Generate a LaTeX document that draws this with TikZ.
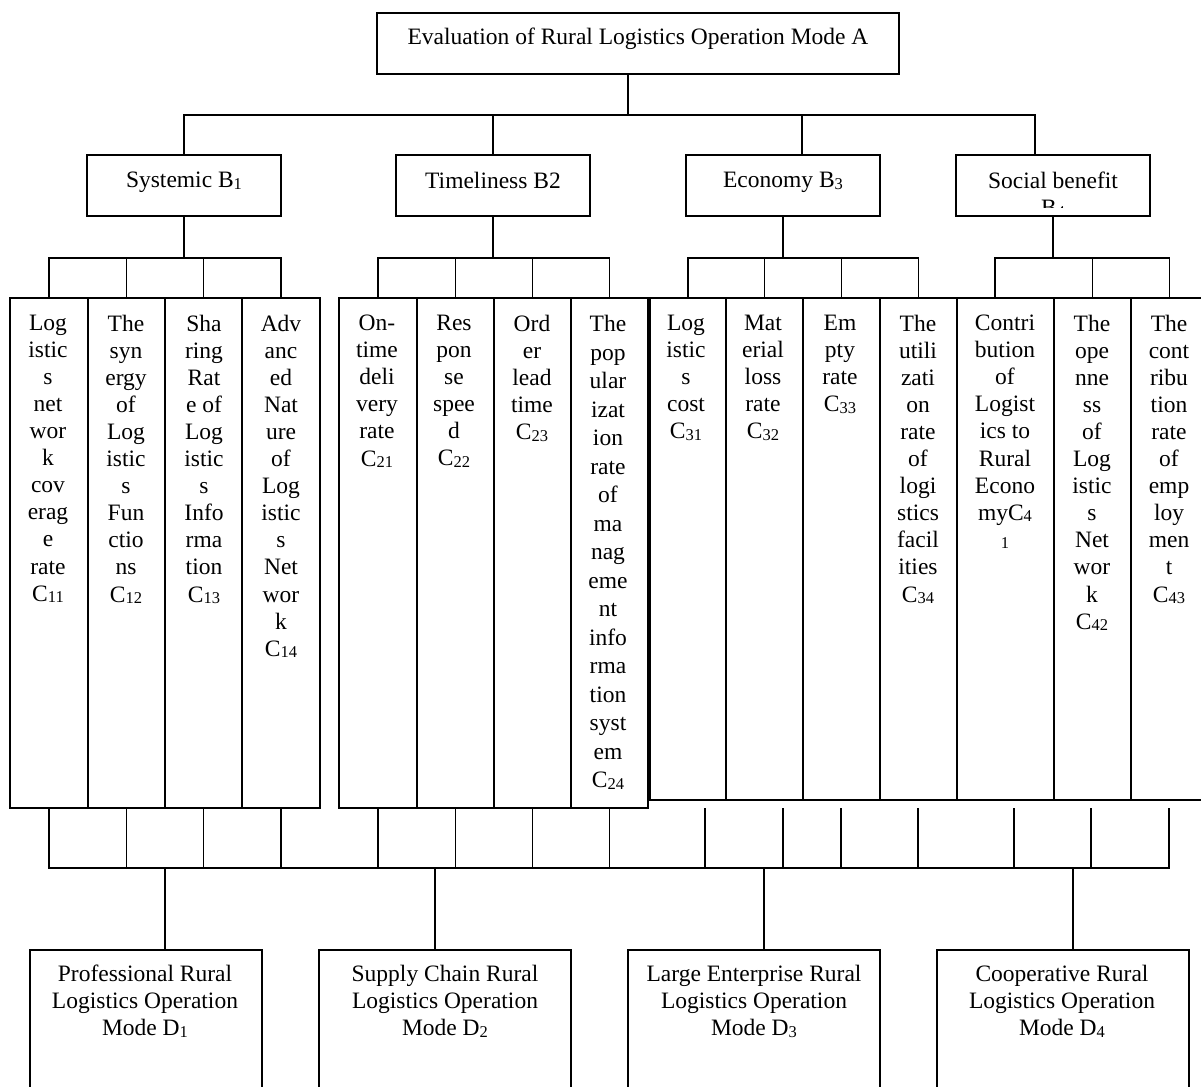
\documentclass[tikz,border=0pt]{standalone}
\usepackage{fontspec}
\setmainfont{Liberation Serif}
\tikzset{
  box/.style={draw, line width=1.8pt, rectangle, inner sep=0pt, fill=white},
  txt/.style={anchor=north, align=center, inner sep=0pt, font=\fontsize{23.5}{27.05}\selectfont},
  wire/.style={line width=1.8pt},
}
\newcommand{\sbs}[1]{\raisebox{-1.5pt}{\fontsize{16.5}{16.5}\selectfont #1}}
\begin{document}
\begin{tikzpicture}[x=1pt,y=-1pt]
\fill[white] (0,0) rectangle (1201,1086);
\clip (0,0) rectangle (1201,1086);

% ---- level A
\node[box, minimum width=522, minimum height=61] (A) at (638,43.5) {};
\node[txt] (At) at (638,28) {Evaluation of Rural Logistics Operation Mode A};

% ---- level B
\node[box, minimum width=194, minimum height=61] (B1) at (184,185.5) {};
\node[box, minimum width=194, minimum height=61] (B2) at (493,185.5) {};
\node[box, minimum width=194, minimum height=61] (B3) at (783,185.5) {};
\node[box, minimum width=194, minimum height=61] (B4) at (1053,185.5) {};
\node[txt] (B1t) at (184,172) {Systemic B\sbs{1}};
\node[txt] (B2t) at (493,172) {Timeliness B2};
\node[txt] (B3t) at (783,172) {Economy B\sbs{3}};
\begin{scope}
\clip (957,156) rectangle (1149,207.5);
\node[txt] (B4t) at (1053,172) {Social benefit\\B\sbs{4}};
\end{scope}

% ---- level C boxes
\node[box, minimum width=78, minimum height=510] (c11) at (49,553) {};
\node[box, minimum width=77, minimum height=510] (c12) at (126.5,553) {};
\node[box, minimum width=77, minimum height=510] (c13) at (203.5,553) {};
\node[box, minimum width=78, minimum height=510] (c14) at (281,553) {};
\node[box, minimum width=78, minimum height=510] (c21) at (378,553) {};
\node[box, minimum width=77, minimum height=510] (c22) at (455.5,553) {};
\node[box, minimum width=77, minimum height=510] (c23) at (532.5,553) {};
\node[box, minimum width=77, minimum height=510] (c24) at (609.5,553) {};
\node[box, minimum width=76, minimum height=502] (c31) at (688,549) {};
\node[box, minimum width=77, minimum height=502] (c32) at (764.5,549) {};
\node[box, minimum width=77, minimum height=502] (c33) at (841.5,549) {};
\node[box, minimum width=77, minimum height=502] (c34) at (918.5,549) {};
\node[box, minimum width=97, minimum height=502] (c41) at (1005.5,549) {};
\node[box, minimum width=77, minimum height=502] (c42) at (1092.5,549) {};
\node[box, minimum width=77, minimum height=502] (c43) at (1169.5,549) {};

% ---- level C texts
\node[txt] (c11t) at (48,315) {Log\\istic\\s\\net\\wor\\k\\cov\\erag\\e\\rate\\C\sbs{11}};
\node[txt] (c12t) at (126,315) {The\\syn\\ergy\\of\\Log\\istic\\s\\Fun\\ctio\\ns\\C\sbs{12}};
\node[txt] (c13t) at (204,315) {Sha\\ring\\Rat\\e of\\Log\\istic\\s\\Info\\rma\\tion\\C\sbs{13}};
\node[txt] (c14t) at (281,315) {Adv\\anc\\ed\\Nat\\ure\\of\\Log\\istic\\s\\Net\\wor\\k\\C\sbs{14}};
\node[txt] (c21t) at (377,315) {On-\\time\\deli\\very\\rate\\C\sbs{21}};
\node[txt] (c22t) at (454,315) {Res\\pon\\se\\spee\\d\\C\sbs{22}};
\node[txt] (c23t) at (532,315) {Ord\\er\\lead\\time\\C\sbs{23}};
\node[txt, font=\fontsize{23.5}{28.5}\selectfont] (c24t) at (608,315) {The\\pop\\ular\\izat\\ion\\rate\\of\\ma\\nag\\eme\\nt\\info\\rma\\tion\\syst\\em\\C\sbs{24}};
\node[txt] (c31t) at (686,315) {Log\\istic\\s\\cost\\C\sbs{31}};
\node[txt] (c32t) at (763,315) {Mat\\erial\\loss\\rate\\C\sbs{32}};
\node[txt] (c33t) at (840,315) {Em\\pty\\rate\\C\sbs{33}};
\node[txt] (c34t) at (918,315) {The\\utili\\zati\\on\\rate\\of\\logi\\stics\\facil\\ities\\C\sbs{34}};
\node[txt] (c41t) at (1005,315) {Contri\\bution\\of\\Logist\\ics to\\Rural\\Econo\\myC\sbs{4}\\\sbs{1}};
\node[txt] (c42t) at (1092,315) {The\\ope\\nne\\ss\\of\\Log\\istic\\s\\Net\\wor\\k\\C\sbs{42}};
\node[txt] (c43t) at (1169,315) {The\\cont\\ribu\\tion\\rate\\of\\emp\\loy\\men\\t\\C\sbs{43}};

% ---- level D
\node[box, minimum width=232, minimum height=170] (D1) at (146,1035) {};
\node[box, minimum width=252, minimum height=170] (D2) at (445,1035) {};
\node[box, minimum width=252, minimum height=170] (D3) at (754,1035) {};
\node[box, minimum width=252, minimum height=170] (D4) at (1063,1035) {};
\node[txt] (D1t) at (145,965) {Professional Rural\\Logistics Operation\\Mode D\sbs{1}};
\node[txt] (D2t) at (445,965) {Supply Chain Rural\\Logistics Operation\\Mode D\sbs{2}};
\node[txt] (D3t) at (754,965) {Large Enterprise Rural\\Logistics Operation\\Mode D\sbs{3}};
\node[txt] (D4t) at (1062,965) {Cooperative Rural\\Logistics Operation\\Mode D\sbs{4}};

% ---- junction coordinates
\coordinate (jA) at (628,115);
\coordinate (jB3) at (802,115);
\coordinate (jB4) at (1035,115);
\coordinate (busC) at (0,258);
\coordinate (t41) at (995,258);
\coordinate (busD) at (0,868);
\coordinate (u31) at (705,808);
\coordinate (u32) at (783,808);
\coordinate (u33) at (841,808);
\coordinate (u34) at (918,808);
\coordinate (u41) at (1014,808);
\coordinate (u42) at (1091,808);
\coordinate (u43) at (1169,808);
\coordinate (v1) at (165,868);
\coordinate (v2) at (435,868);
\coordinate (v3) at (764,868);
\coordinate (v4) at (1073,868);

% ---- connectors A -> B
\draw[wire] (A.south -| jA) -- (jA);
\draw[wire] (B1.north) |- (jB4) -- (jB4 |- B4.north);
\draw[wire] (B2.north) -- (B2.north |- jA);
\draw[wire] (jB3) -- (jB3 |- B3.north);

% ---- connectors B -> C
\draw[wire] (B1.south) -- (B1.south |- busC);
\draw[wire] (c11.north) |- (c14.north |- busC) -- (c14.north);
\draw[wire] (c12.north) -- (c12.north |- busC);
\draw[wire] (c13.north) -- (c13.north |- busC);

\draw[wire] (B2.south) -- (B2.south |- busC);
\draw[wire] (c21.north) |- (c24.north |- busC) -- (c24.north);
\draw[wire] (c22.north) -- (c22.north |- busC);
\draw[wire] (c23.north) -- (c23.north |- busC);

\draw[wire] (B3.south) -- (B3.south |- busC);
\draw[wire] (c31.north) |- (c34.north |- busC) -- (c34.north);
\draw[wire] (c32.north) -- (c32.north |- busC);
\draw[wire] (c33.north) -- (c33.north |- busC);

\draw[wire] (B4.south) -- (B4.south |- busC);
\draw[wire] (t41 |- c41.north) -- (t41) -| (c43.north);
\draw[wire] (c42.north) -- (c42.north |- busC);

% ---- connectors C -> bus -> D
\draw[wire] (c11.south) -- (c11.south |- busD) -- (u43 |- busD) -- (u43);
\draw[wire] (c12.south) -- (c12.south |- busD);
\draw[wire] (c13.south) -- (c13.south |- busD);
\draw[wire] (c14.south) -- (c14.south |- busD);
\draw[wire] (c21.south) -- (c21.south |- busD);
\draw[wire] (c22.south) -- (c22.south |- busD);
\draw[wire] (c23.south) -- (c23.south |- busD);
\draw[wire] (c24.south) -- (c24.south |- busD);
\draw[wire] (u31) -- (u31 |- busD);
\draw[wire] (u32) -- (u32 |- busD);
\draw[wire] (u33) -- (u33 |- busD);
\draw[wire] (u34) -- (u34 |- busD);
\draw[wire] (u41) -- (u41 |- busD);
\draw[wire] (u42) -- (u42 |- busD);

\draw[wire] (v1) -- (v1 |- D1.north);
\draw[wire] (v2) -- (v2 |- D2.north);
\draw[wire] (v3) -- (v3 |- D3.north);
\draw[wire] (v4) -- (v4 |- D4.north);
\end{tikzpicture}
\end{document}
